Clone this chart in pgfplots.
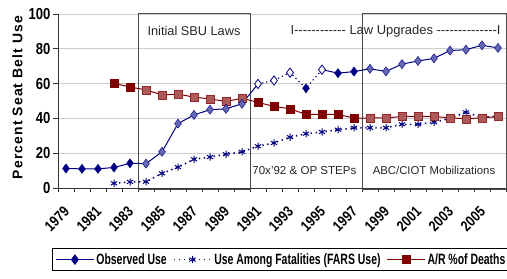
\documentclass[border=0pt]{standalone}
\usepackage{pgfplots}
\pgfplotsset{compat=1.18}
\usepackage{fontspec}
\usetikzlibrary{calc}
\setmainfont{Liberation Sans}
\newfontfamily\narrowfont[FakeStretch=0.82]{Liberation Sans}
\newfontfamily\legfont[FakeStretch=0.7]{Liberation Sans}
\newfontfamily\ylabfont[LetterSpace=8]{Liberation Sans}
\definecolor{navy}{RGB}{0,0,128}
\definecolor{dred}{RGB}{128,0,0}
\newcommand\dd{\mbox{-}}
\begin{document}
\begin{tikzpicture}
\begin{axis}[
  scale only axis, width=448bp, height=174bp,
  xmin=1978.5, xmax=2006.5, ymin=0, ymax=100,
  clip=false,
  axis lines=left, axis line style={-, black!80, line width=0.8bp},
  tick align=outside,
  ytick={0,20,...,100},
  ymajorgrids, grid style={gray!40, line width=0.6bp},
  major tick length=5bp, minor tick length=4bp,
  xtick={1979,1981,...,2005},
  minor xtick={1978.5,1979.5,...,2006.5},
  every major x tick/.append style={draw=none},
  every minor x tick/.append style={black!80, line width=0.8bp},
  every major y tick/.append style={black!80, line width=0.8bp},
  /pgf/number format/assume math mode=true,
  /pgf/number format/1000 sep={},
  yticklabel style={font=\narrowfont\bfseries\fontsize{16}{16}\selectfont, xshift=1bp},
  xticklabel style={font=\narrowfont\bfseries\fontsize{15}{15}\selectfont, yshift=-14bp, xshift=3bp, rotate=45, anchor=east},
  ylabel={\ylabfont\bfseries\fontsize{14}{14}\selectfont Percent Seat Belt Use},
  ylabel style={at={(axis description cs:-0.0904,0.52)}, anchor=center},
  legend style={at={(axis description cs:-0.0134,-0.345)}, anchor=north west,
    legend columns=3, draw=black, line width=0.8bp,
    font=\legfont\bfseries\fontsize{15}{15}\selectfont,
    inner ysep=3bp, inner xsep=3bp,
    /tikz/every even column/.append style={column sep=4bp}},
  legend cell align=left,
  legend image code/.code={\draw[mark repeat=2,mark phase=2,#1] plot coordinates {(0bp,0bp) (19bp,0bp) (38bp,0bp)};},
]
\coordinate (A) at (rel axis cs:0,0);
\coordinate (B) at (rel axis cs:1,1);

% boxes
\draw[black!70, line width=0.9bp] (axis cs:1983.5,-1) rectangle (axis cs:1990.5,100.5);
\draw[black!70, line width=0.9bp] (axis cs:1997.5,-1) rectangle (axis cs:2006.5,100.5);

% FARS use
\addplot[forget plot, navy, line width=1.6bp, dash pattern=on 1.4bp off 3.6bp, mark=none] coordinates {
(1982,2.7)(1983,3.5)(1984,3.6)(1985,8.4)(1986,12)(1987,16.5)(1988,17.8)(1989,19.4)(1990,20.8)
(1991,24)(1992,25.9)(1993,29.2)(1994,31.2)(1995,32.2)(1996,33.5)(1997,34.6)(1998,34.6)(1999,34.6)
(2000,36.6)(2001,36.6)(2002,37.8)(2003,40)(2004,43.5)(2005,40.5)(2006,41.3)};
\addplot[forget plot, only marks, navy, mark=asterisk, mark size=3.6bp, mark options={solid, line width=1bp}] coordinates {
(1982,2.7)(1983,3.5)(1984,3.6)(1985,8.4)(1986,12)(1987,16.5)(1988,17.8)(1989,19.4)(1990,20.8)
(1991,24)(1992,25.9)(1993,29.2)(1994,31.2)(1995,32.2)(1996,33.5)(1997,34.6)(1998,34.6)(1999,34.6)
(2000,36.6)(2001,36.6)(2002,37.8)(2003,40)(2004,43.5)(2005,40.5)(2006,41.3)};

% A/R % of deaths
\addplot[forget plot, dred, line width=1bp, mark=none] coordinates {
(1982,60.2)(1983,58)(1984,56.4)(1985,53.5)(1986,54)(1987,52.2)(1988,51.2)(1989,49.7)(1990,51.6)
(1991,49.2)(1992,46.9)(1993,45.5)(1994,42.3)(1995,42.3)(1996,42.3)(1997,40.2)(1998,40.2)(1999,40.3)
(2000,41.1)(2001,41.1)(2002,41.1)(2003,40.3)(2004,39.8)(2005,40.3)(2006,41.1)};
\addplot[forget plot, only marks, mark=square*, mark size=4bp, mark options={draw=dred, fill=dred}] coordinates {
(1982,60.2)(1983,58)(1991,49.2)(1992,46.9)(1993,45.5)(1994,42.3)(1995,42.3)(1996,42.3)(1997,40.2)};
\addplot[forget plot, only marks, mark=square*, mark size=4bp, mark options={draw=dred!85, fill=dred!65!white}] coordinates {
(1984,56.4)(1985,53.5)(1986,54)(1987,52.2)(1988,51.2)(1989,49.7)(1990,51.6)
(1998,40.2)(1999,40.3)(2000,41.1)(2001,41.1)(2002,41.1)(2003,40.3)(2004,39.8)(2005,40.3)(2006,41.1)};

% Observed use
\addplot[forget plot, navy, line width=1bp, mark=none] coordinates {
(1979,11.2)(1980,11)(1981,11)(1982,11.8)(1983,14.2)(1984,14)(1985,20.8)(1986,37)(1987,42)(1988,45)(1989,45.5)(1990,48.4)(1991,59.8)};
\addplot[forget plot, navy, line width=1.2bp, dash pattern=on 1.2bp off 3bp, mark=none] coordinates {
(1991,59.8)(1992,61.8)(1993,66.3)(1994,57.3)(1995,68)};
\addplot[forget plot, navy, line width=1bp, mark=none] coordinates {
(1995,68)(1996,66)(1997,66.9)(1998,68.5)(1999,67)(2000,71.2)(2001,73)(2002,74.5)(2003,79)(2004,79.5)(2005,82)(2006,80.5)};
\addplot[forget plot, only marks, mark=diamond*, mark size=4.6bp, mark options={draw=navy, fill=navy}] coordinates {
(1979,11.2)(1980,11)(1981,11)(1982,11.8)(1983,14.2)(1994,57.3)(1996,66)(1997,66.9)};
\addplot[forget plot, only marks, mark=diamond*, mark size=4.6bp, mark options={draw=navy, fill=navy!60!white}] coordinates {
(1984,14)(1985,20.8)(1986,37)(1987,42)(1988,45)(1989,45.5)(1990,48.4)
(1998,68.5)(1999,67)(2000,71.2)(2001,73)(2002,74.5)(2003,79)(2004,79.5)(2005,82)(2006,80.5)};
\addplot[forget plot, only marks, mark=diamond*, mark size=4.6bp, mark options={draw=navy, fill=white, line width=0.8bp}] coordinates {
(1991,59.8)(1992,61.8)(1993,66.3)(1995,68)};

% legend
\addlegendimage{navy, line width=1bp, mark=diamond*, mark size=4.6bp, mark options={fill=navy}}
\addlegendentry{Observed Use}
\addlegendimage{navy, line width=1.6bp, dash pattern=on 1.4bp off 3.6bp, mark=asterisk, mark size=3.6bp, mark options={solid, line width=1bp}}
\addlegendentry{Use Among Fatalities (FARS Use)}
\addlegendimage{dred, line width=1bp, mark=square*, mark size=4bp, mark options={fill=dred}}
\addlegendentry{A/R \%of Deaths}

% annotations
\node[font=\fontsize{12.8}{13}\selectfont, text=black!85] at (axis cs:1987,90.3) {Initial SBU Laws};
\node[font=\fontsize{13}{13}\selectfont, text=black!85] at (axis cs:1999.6,90.3) {I\dd\dd\dd\dd\dd\dd\dd\dd\dd\dd\dd\dd{} Law Upgrades \dd\dd\dd\dd\dd\dd\dd\dd\dd\dd\dd\dd\dd\dd I};
\node[font=\fontsize{11.6}{12}\selectfont, text=black!85] at (axis cs:1993.9,10.3) {70x'92 \& OP STEPs};
\node[font=\fontsize{11.4}{12}\selectfont, text=black!85] at (axis cs:2002,10.3) {ABC/CIOT Mobilizations};
\end{axis}
\pgfresetboundingbox
\path[use as bounding box] ($(A)+(-58bp,-91bp)$) rectangle ($(B)+(1bp,14bp)$);
\end{tikzpicture}
\end{document}
